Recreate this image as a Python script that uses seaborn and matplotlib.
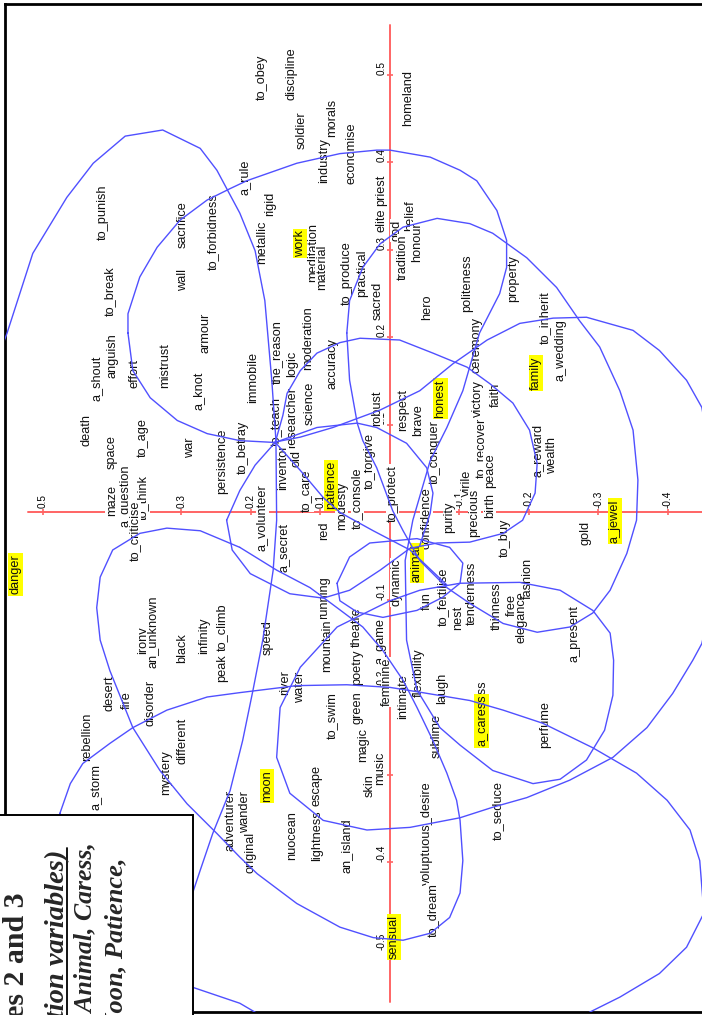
import numpy as np
import pandas as pd
import matplotlib
matplotlib.use("Agg")
import matplotlib.pyplot as plt
from matplotlib.patches import Rectangle
from matplotlib.lines import Line2D
import seaborn as sns

# ---------------------------------------------------------------------------
# Word coordinates on the factorial plane (dim3 runs across, dim2 runs along)
# ---------------------------------------------------------------------------
word_labels = [
    "to_obey", "discipline", "soldier", "morals", "industry", "economise", "homeland",
    "priest", "elite", "a_rule", "rigid", "metallic", "meditation", "material",
    "to_produce", "practical", "sacred", "god", "belief", "tradition", "honour", "hero",
    "politeness", "property",
    "to_punish", "to_break", "wall", "sacrifice", "to_forbidness", "armour", "anguish",
    "a_shout", "death", "effort", "mistrust", "a_knot", "space", "maze", "a_question",
    "to_think", "to_criticise", "to_age", "war", "persistence",
    "immobile", "the_reason", "logic", "moderation", "accuracy", "to_betray", "to_teach",
    "researcher", "science", "inventor", "old", "to_care", "robust", "respect", "brave",
    "to_forgive", "to_conquer", "modesty", "to_console", "red", "a_volunteer", "a_secret",
    "to_protect", "confidence", "purity",
    "ceremony", "victory", "faith", "to_recover", "peace", "birth", "to_inherit",
    "a_wedding", "a_reward", "wealth", "virile", "precious", "to_buy", "gold",
    "irony", "an_unknown", "black", "infinity", "to_climb", "peak", "desert", "fire",
    "rebellion", "disorder", "different", "a_storm", "mystery", "adventurer",
    "speed", "running", "mountain", "theatre", "poetry", "a_game", "dynamic", "fun",
    "to_fertilise", "nest", "tenderness", "thinness", "free", "elegance", "fashion",
    "a_present",
    "river", "water", "to_swim", "green", "magic", "skin", "music", "feminine", "intimate",
    "flexibility", "laugh", "sublime", "wander", "original", "nuocean", "escape",
    "lightness", "an_island", "voluptuous_desire", "to_dream", "a_caress", "perfume",
    "to_seduce",
]
word_dim3 = [
    0.184, 0.141, 0.127, 0.083, 0.094, 0.055, -0.026,
    0.012, 0.012, 0.209, 0.173, 0.184, 0.111, 0.098,
    0.062, 0.040, 0.017, -0.010, -0.029, -0.019, -0.039, -0.053,
    -0.111, -0.177,
    0.413, 0.403, 0.298, 0.299, 0.255, 0.266, 0.399,
    0.422, 0.436, 0.367, 0.324, 0.276, 0.400, 0.400, 0.381,
    0.355, 0.367, 0.355, 0.288, 0.242,
    0.197, 0.163, 0.141, 0.117, 0.083, 0.212, 0.164,
    0.141, 0.115, 0.154, 0.134, 0.119, 0.019, -0.019, -0.040,
    0.029, -0.065, 0.069, 0.047, 0.094, 0.184, 0.151,
    -0.004, -0.053, -0.086,
    -0.125, -0.127, -0.153, -0.132, -0.144, -0.144, -0.223,
    -0.245, -0.212, -0.233, -0.111, -0.122, -0.165, -0.282,
    0.355, 0.342, 0.299, 0.267, 0.242, 0.242, 0.403, 0.378,
    0.436, 0.345, 0.299, 0.422, 0.322, 0.230,
    0.176, 0.094, 0.091, 0.047, 0.047, 0.014, -0.010, -0.053,
    -0.076, -0.098, -0.118, -0.154, -0.176, -0.190, -0.199,
    -0.266,
    0.151, 0.129, 0.083, 0.047, 0.039, 0.029, 0.014, 0.004, -0.019,
    -0.042, -0.075, -0.068, 0.209, 0.201, 0.141, 0.105,
    0.105, 0.062, -0.053, -0.062, -0.132, -0.223,
    -0.155,
]
word_dim2 = [
    0.497, 0.502, 0.437, 0.451, 0.402, 0.411, 0.473,
    0.368, 0.334, 0.383, 0.353, 0.309, 0.297, 0.280,
    0.273, 0.273, 0.242, 0.322, 0.339, 0.291, 0.309, 0.234,
    0.262, 0.267,
    0.343, 0.253, 0.266, 0.329, 0.321, 0.205, 0.179,
    0.153, 0.094, 0.159, 0.168, 0.139, 0.069, 0.014, 0.019,
    0.017, -0.021, 0.086, 0.074, 0.059,
    0.154, 0.183, 0.170, 0.199, 0.170, 0.074, 0.104,
    0.109, 0.125, 0.051, 0.062, 0.025, 0.119, 0.117, 0.105,
    0.059, 0.069, 0.008, 0.016, -0.021, -0.006, -0.040,
    0.022, -0.006, -0.006,
    0.191, 0.130, 0.134, 0.074, 0.048, 0.008, 0.222,
    0.185, 0.071, 0.065, 0.034, -0.001, -0.029, -0.024,
    -0.146, -0.137, -0.155, -0.141, -0.131, -0.178, -0.207, -0.215,
    -0.256, -0.218, -0.261, -0.314, -0.297, -0.352,
    -0.143, -0.097, -0.152, -0.131, -0.177, -0.147, -0.080, -0.101,
    -0.097, -0.121, -0.093, -0.107, -0.106, -0.120, -0.075,
    -0.138,
    -0.194, -0.200, -0.232, -0.223, -0.266, -0.312, -0.293, -0.194, -0.211,
    -0.183, -0.201, -0.255, -0.343, -0.389, -0.369, -0.312,
    -0.369, -0.381, -0.367, -0.455, -0.222, -0.243,
    -0.341,
]

# supplementary (highlighted) variables
key_labels = ["danger", "work", "patience", "honest", "animal", "family",
              "a_jewel", "moon", "sensual", "a_caress"]
key_dim3 = [0.539, 0.129, 0.085, -0.073, -0.039, -0.210, -0.324, 0.177, -0.006, -0.132]
key_dim2 = [-0.071, 0.307, 0.031, 0.130, -0.058, 0.159, -0.010, -0.313, -0.485, -0.238]

# axis extents and graduations
dim2_axis_span = [-0.560, 0.557]
dim3_axis_span = [0.521, -0.470]
dim2_ticks = [0.5, 0.4, 0.3, 0.2, 0.1, -0.1, -0.2, -0.3, -0.4, -0.5]
dim3_ticks = [0.5, 0.4, 0.3, 0.2, 0.1, -0.1, -0.2, -0.3, -0.4]

# ---------------------------------------------------------------------------
# Contour curves (dim3, dim2) around the variable groups
# ---------------------------------------------------------------------------
curve_a_dim3 = [0.597, 0.551, 0.514, 0.465, 0.427, 0.381, 0.327, 0.273, 0.249, 0.216,
                0.194, 0.180, 0.170, 0.164, 0.163, 0.168, 0.183, 0.197, 0.212, 0.230,
                0.255, 0.273, 0.302, 0.388, 0.504, 0.604, 0.633, 0.597]
curve_a_dim2 = [0.105, 0.205, 0.296, 0.360, 0.399, 0.430, 0.437, 0.416, 0.391, 0.342,
                0.299, 0.242, 0.151, 0.082, -0.009, -0.066, -0.146, -0.203, -0.261, -0.318,
                -0.367, -0.409, -0.478, -0.546, -0.535, -0.386, -0.101, 0.105]

curve_b_dim3 = [0.377, 0.377, 0.360, 0.335, 0.302, 0.263, 0.230, 0.206, 0.134, 0.072,
                0.019, 0.000, -0.058, -0.101, -0.125, -0.154, -0.168, -0.168, -0.158, -0.129,
                -0.105, -0.082, -0.058, -0.033, -0.022, -0.024, -0.039, -0.072, -0.101, -0.148,
                -0.206, -0.245, -0.283, -0.309, -0.321, -0.322, -0.317, -0.292, -0.245, -0.187,
                -0.101, -0.043, 0.000, 0.076, 0.129, 0.158, 0.163, 0.144, 0.096, 0.033,
                -0.029, -0.101, -0.148, -0.197, -0.259, -0.321, -0.370, -0.407, -0.436, -0.449,
                -0.482, -0.449, -0.427, -0.388, -0.350, -0.283, -0.235, -0.187, -0.140, -0.091,
                -0.043, 0.014, 0.082, 0.129, 0.168, 0.216, 0.263, 0.306, 0.345, 0.370, 0.377]
curve_b_dim2 = [0.205, 0.227, 0.269, 0.303, 0.334, 0.357, 0.370, 0.379, 0.399, 0.410,
                0.414, 0.414, 0.406, 0.391, 0.379, 0.345, 0.311, 0.280, 0.250, 0.205,
                0.139, 0.097, 0.059, -0.009, -0.055, -0.146, -0.203, -0.246, -0.266, -0.295,
                -0.310, -0.305, -0.283, -0.249, -0.209, -0.169, -0.138, -0.112, -0.089, -0.080,
                -0.081, -0.089, -0.101, -0.131, -0.177, -0.223, -0.280, -0.321, -0.352, -0.363,
                -0.360, -0.349, -0.337, -0.326, -0.306, -0.280, -0.246, -0.207, -0.169, -0.150,
                -0.032, 0.120, 0.151, 0.185, 0.208, 0.223, 0.222, 0.216, 0.197, 0.170,
                0.139, 0.117, 0.097, 0.086, 0.080, 0.082, 0.090, 0.105, 0.131, 0.162, 0.205]

curve_c_dim3 = [0.235, 0.216, 0.194, 0.165, 0.154, 0.148, 0.129, 0.105, 0.072, 0.043,
                -0.014, -0.062, -0.111, -0.144, -0.177, -0.201, -0.212, -0.209, -0.191, -0.163,
                -0.115, -0.068, -0.029, 0.014, 0.058, 0.096, 0.144, 0.201, 0.227, 0.235]
curve_c_dim2 = [-0.009, 0.025, 0.054, 0.080, 0.111, 0.136, 0.162, 0.182, 0.194, 0.199,
                0.197, 0.182, 0.166, 0.147, 0.125, 0.094, 0.056, 0.022, -0.009, -0.024,
                -0.034, -0.035, -0.041, -0.066, -0.089, -0.098, -0.093, -0.070, -0.043, -0.009]

curve_d_dim3 = [0.062, 0.058, 0.039, 0.014, -0.019, -0.068, -0.115, -0.148, -0.197, -0.240,
                -0.273, -0.302, -0.331, -0.350, -0.357, -0.355, -0.341, -0.317, -0.292, -0.259,
                -0.212, -0.163, -0.115, -0.082, -0.043, -0.019, -0.004, 0.019, 0.039, 0.047,
                0.058, 0.062]
curve_d_dim2 = [0.205, 0.242, 0.280, 0.307, 0.326, 0.336, 0.330, 0.319, 0.291, 0.257,
                0.219, 0.189, 0.139, 0.094, 0.037, -0.009, -0.047, -0.089, -0.115, -0.131,
                -0.137, -0.127, -0.104, -0.086, -0.055, -0.021, 0.002, 0.051, 0.082, 0.102,
                0.151, 0.205]

curve_e_dim3 = [0.165, 0.129, 0.096, 0.072, 0.024, -0.029, -0.082]
curve_e_dim2 = [0.080, 0.048, 0.017, 0.000, -0.021, -0.043, -0.083]

curve_f_dim3 = [0.165, 0.105, 0.047, 0.019, -0.024, -0.053, -0.062, -0.058, -0.043]
curve_f_dim2 = [0.080, 0.097, 0.102, 0.097, 0.079, 0.051, 0.022, -0.001, -0.038]

curve_g_dim3 = [0.076, 0.058, 0.029, -0.039, -0.086, -0.105, -0.101, -0.076, -0.039, 0.010,
                0.047, 0.072, 0.076]
curve_g_dim2 = [-0.081, -0.051, -0.035, -0.030, -0.040, -0.058, -0.081, -0.097, -0.112, -0.120,
                -0.114, -0.101, -0.081]

curve_h_dim3 = [0.216, 0.273, 0.321, 0.360, 0.399, 0.417, 0.422, 0.417, 0.403, 0.370,
                0.331, 0.292, 0.249, 0.216, 0.191, 0.134, 0.072, 0.024, -0.019, -0.058,
                -0.086, -0.101, -0.105, -0.101, -0.096, -0.082, -0.062, -0.039, -0.019, 0.010,
                0.039, 0.076, 0.115, 0.163, 0.216]
curve_h_dim2 = [-0.040, -0.021, -0.018, -0.024, -0.043, -0.074, -0.109, -0.146, -0.181, -0.246,
                -0.295, -0.333, -0.367, -0.394, -0.413, -0.447, -0.474, -0.486, -0.489, -0.481,
                -0.463, -0.435, -0.398, -0.352, -0.329, -0.298, -0.261, -0.223, -0.192, -0.158,
                -0.131, -0.109, -0.086, -0.066, -0.040]

curve_i_dim3 = [0.475, 0.460, 0.442, 0.403, 0.370, 0.321, 0.263, 0.216, 0.134, 0.062,
                0.000, -0.047, -0.115, -0.163, -0.220, -0.292, -0.355, -0.399, -0.432, -0.446,
                -0.452, -0.427, -0.388, -0.331, -0.288, -0.245, -0.014, 0.173, 0.216, 0.283,
                0.388, 0.489, 0.475]
curve_i_dim2 = [-0.344, -0.310, -0.287, -0.264, -0.246, -0.226, -0.211, -0.206, -0.198, -0.197,
                -0.200, -0.206, -0.215, -0.226, -0.241, -0.269, -0.298, -0.329, -0.363, -0.398,
                -0.458, -0.497, -0.527, -0.554, -0.571, -0.592, -0.626, -0.581, -0.561, -0.543,
                -0.512, -0.443, -0.344]

curves = {
    "a": (curve_a_dim3, curve_a_dim2), "b": (curve_b_dim3, curve_b_dim2),
    "c": (curve_c_dim3, curve_c_dim2), "d": (curve_d_dim3, curve_d_dim2),
    "e": (curve_e_dim3, curve_e_dim2), "f": (curve_f_dim3, curve_f_dim2),
    "g": (curve_g_dim3, curve_g_dim2), "h": (curve_h_dim3, curve_h_dim2),
    "i": (curve_i_dim3, curve_i_dim2),
}

# ---------------------------------------------------------------------------
# Styling
# ---------------------------------------------------------------------------
sns.set_theme(style="white")
plt.rcParams["font.family"] = ["Liberation Sans", "DejaVu Sans"]

AXIS_RED = "#ff6464"
CURVE_BLUE = "#5050ff"
WORD_SIZE = 9.2

fig = plt.figure(figsize=(7.02, 10.15), dpi=100)
fig.patch.set_facecolor("white")
ax = fig.add_axes([5 / 702, 3 / 1015, 701 / 702, 1008 / 1015])

# contour curves, one path per unit
frames = []
for name, (cx, cy) in curves.items():
    frames.append(pd.DataFrame({"dim3": cx, "dim2": cy, "curve": name,
                                "step": np.arange(len(cx))}))
curve_df = pd.concat(frames, ignore_index=True)
sns.lineplot(data=curve_df, x="dim3", y="dim2", units="curve", estimator=None,
             sort=False, color=CURVE_BLUE, lw=1.0, legend=False, ax=ax, zorder=5)

# principal axes through the origin
ax.plot([0, 0], dim2_axis_span, color=AXIS_RED, lw=1.4, zorder=1)
ax.plot(dim3_axis_span, [0, 0], color=AXIS_RED, lw=1.4, zorder=1)
ax.plot(np.zeros(len(dim2_ticks)), dim2_ticks, ls="none", marker="_", ms=5,
        mew=1.2, color=AXIS_RED, zorder=1)
ax.plot(dim3_ticks, np.zeros(len(dim3_ticks)), ls="none", marker="|", ms=5,
        mew=1.2, color=AXIS_RED, zorder=1)

for t in dim2_ticks:
    ax.text(0.012, t, f"{t:g}", rotation=90, rotation_mode="anchor", ha="left",
            va="center", fontsize=7.2, color="black", zorder=2)
for t in dim3_ticks:
    ax.text(t, 0.005, f"{t:g}", rotation=90, rotation_mode="anchor", ha="left",
            va="center", fontsize=7.2, color="black", zorder=2)

# word labels
for lab, x, y in zip(word_labels, word_dim3, word_dim2):
    ax.text(x, y, lab, rotation=90, ha="center", va="center", fontsize=WORD_SIZE,
            color="#111111", zorder=3,
            bbox=dict(facecolor="white", edgecolor="none", pad=0.4))
for lab, x, y in zip(key_labels, key_dim3, key_dim2):
    ax.text(x, y, lab, rotation=90, ha="center", va="center", fontsize=WORD_SIZE,
            color="#111111", zorder=4,
            bbox=dict(facecolor="#ffff00", edgecolor="none", pad=0.8))

ax.set_xlim(0.554, -0.455)
ax.set_ylim(-0.571, 0.581)
ax.set_xlabel("")
ax.set_ylabel("")
ax.set_xticks([])
ax.set_yticks([])
for s in ax.spines.values():
    s.set_visible(True)
    s.set_color("black")
    s.set_linewidth(2.0)

# caption box in the lower corner
fig.add_artist(Rectangle((-5 / 702, -0.02), 198 / 702, 1 - 815 / 1015 + 0.02,
                         transform=fig.transFigure, facecolor="white",
                         edgecolor="black", lw=1.4, zorder=10))
serif = ["Liberation Serif", "DejaVu Serif"]
fig.text(17 / 702, 1 - 893 / 1015, "Factorial map of axes 2 and 3", rotation=90,
         rotation_mode="anchor", ha="right", va="center", fontsize=21.5,
         fontweight="bold", family=serif, zorder=11)
fig.text(57 / 702, 1 - 850 / 1015, "(supplementary projection variables)", rotation=90,
         rotation_mode="anchor", ha="right", va="center", fontsize=20.5,
         fontweight="bold", fontstyle="italic", family=serif, zorder=11)
fig.add_artist(Line2D([67 / 702, 67 / 702], [1 - 848 / 1015, -0.02],
                      transform=fig.transFigure, color="black", lw=1.3, zorder=11))
fig.text(86 / 702, 1 - 842 / 1015, "Danger, Family, Animal, Caress,", rotation=90,
         rotation_mode="anchor", ha="right", va="center", fontsize=18.5,
         fontweight="bold", fontstyle="italic", family=serif, zorder=11)
fig.text(116 / 702, 1 - 857 / 1015, "Honest, Jewel, Moon, Patience,", rotation=90,
         rotation_mode="anchor", ha="right", va="center", fontsize=19,
         fontweight="bold", fontstyle="italic", family=serif, zorder=11)

fig.savefig("out.png", dpi=100)
